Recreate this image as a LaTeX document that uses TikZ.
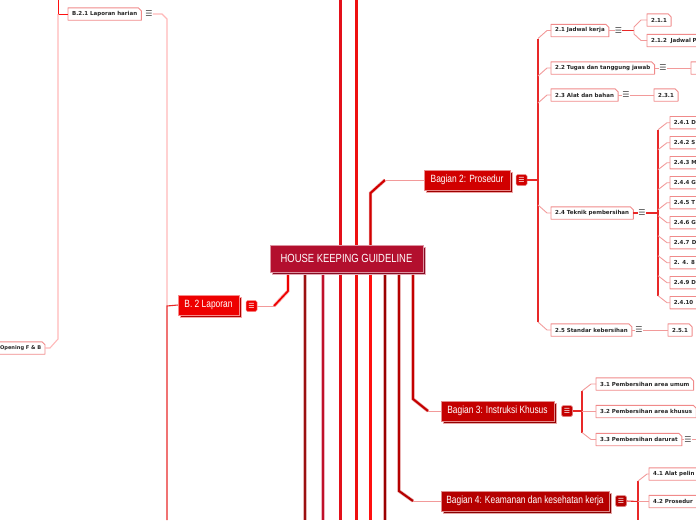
\documentclass[tikz,border=0pt]{standalone}
\usepackage{fontspec}
\setmainfont{DejaVu Sans}
\newfontfamily\hkmain[FakeStretch=0.8]{Liberation Sans}
\newfontfamily\hklab{DejaVu Sans}
\newfontfamily\hksym{DejaVu Sans}
\usetikzlibrary{shadows}
\definecolor{cmain}{HTML}{B30F2E}
\definecolor{cbtwo}{HTML}{EE0000}
\definecolor{cbagtwo}{HTML}{D10000}
\definecolor{cbagthree}{HTML}{C40000}
\definecolor{cbagfour}{HTML}{B50000}
\definecolor{tone}{HTML}{9B1010}
\definecolor{ttwo}{HTML}{C0102A}
\definecolor{tthree}{HTML}{E3101A}
\definecolor{tfour}{HTML}{EE1010}
\definecolor{tfive}{HTML}{FF1010}
\definecolor{tsix}{HTML}{9B0000}
\definecolor{boxline}{HTML}{F08A8A}
\definecolor{palelink}{HTML}{F29A9A}
\definecolor{palepink}{HTML}{FFB8B8}
\definecolor{spinered}{HTML}{E82828}
\definecolor{labtext}{HTML}{262626}
\definecolor{icongray}{HTML}{444444}
\tikzset{
  mainbox/.style={fill=#1, draw=#1!45!white, line width=0.5pt, text=white, inner sep=0pt,
    font=\hkmain\fontsize{10.5}{12}\selectfont,
    general shadow={shadow xshift=2pt, shadow yshift=-2.2pt, fill=#1!75!black, draw=#1!35!white, line width=0.5pt}},
  micon/.style={fill=#1, draw=#1!45!white, line width=0.5pt, rounded corners=1.5pt, minimum size=11pt,
    inner sep=0pt, text=white, font=\hksym\fontsize{7}{7}\selectfont},
  lab/.style={fill=white, anchor=west, inner xsep=4pt, inner ysep=0pt, minimum height=12pt,
    text=labtext, font=\hklab\bfseries\fontsize{5.5}{6.5}\selectfont},
  labclip/.style={lab, text width=70pt, align=left},
  sicon/.style={inner sep=0pt, text=icongray, font=\hksym\fontsize{8}{8}\selectfont},
  trunk/.style={draw=#1, line width=2.1pt, preaction={draw=#1!30!white, line width=3.4pt}},
  spine/.style={draw=spinered, line width=1.1pt},
  pale/.style={draw=palelink, line width=0.9pt},
  outline/.style={draw=boxline, line width=0.9pt, line join=round},
}
\begin{document}
\begin{tikzpicture}[x=1pt,y=-1pt]
\useasboundingbox (0,0) rectangle (696,520);
\clip (0,0) rectangle (696,520);
% main nodes
\node[mainbox=cmain, minimum width=153pt, minimum height=27pt, font=\hkmain\fontsize{11.8}{13}\selectfont] (c) at (346.5,258.5) {HOUSE KEEPING GUIDELINE};
\node[mainbox=cbtwo, minimum width=61pt, minimum height=20pt] (b2) at (208.5,305) {B. 2 Laporan};
\node[micon=cbtwo] (b2i) at (251.5,306) {☰};
\node[mainbox=cbagtwo, minimum width=86pt, minimum height=20pt] (g2) at (467,180) {Bagian 2: Prosedur};
\node[micon=cbagtwo] (g2i) at (521.5,180) {☰};
\node[mainbox=cbagthree, minimum width=113pt, minimum height=20pt] (g3) at (497.5,411) {Bagian 3: Instruksi Khusus};
\node[micon=cbagthree] (g3i) at (567,411) {☰};
\node[mainbox=cbagfour, minimum width=168pt, minimum height=20pt] (g4) at (525,501) {Bagian 4: Keamanan dan kesehatan kerja};
\node[micon=cbagfour] (g4i) at (621,501) {☰};
% small nodes
\node[lab] (b21) at (68,14) {B.2.1 Laporan harian};
\node[sicon] (b21i) at (149,14) {☰};
\node[lab, anchor=east, inner xsep=3.5pt, font=\hklab\bfseries\fontsize{5.1}{6}\selectfont] (opn) at (45,348) {Opening F \& B};
\node[lab] (s21) at (551,30.5) {2.1 Jadwal kerja};
\node[sicon] (s21i) at (618.5,30.5) {☰};
\node[lab] (s211) at (647,20) {2.1.1};
\node[labclip] (s212) at (647,40.5) {2.1.2\ \ Jadwal P};
\node[lab] (s22) at (551,68) {2.2 Tugas dan tanggung jawab};
\node[sicon] (s22i) at (663,68) {☰};
\node[labclip] (s221) at (691,68) {};
\node[lab] (s23) at (551,95) {2.3 Alat dan bahan};
\node[sicon] (s23i) at (626,95) {☰};
\node[lab] (s231) at (654,95) {2.3.1};
\node[lab] (s24) at (551,213) {2.4 Teknik pembersihan};
\node[sicon] (s24i) at (642,213) {☰};
\foreach \t [count=\i from 0] in {2.4.1 D,2.4.2 S,2.4.3 M,2.4.4 G,2.4.5 T,2.4.6 G,2.4.7\kern0.6pt\ D,2. 4. 8,2.4.9 D,2.4.10}
  \node[labclip, inner xsep=3.6pt] (s24-\i) at (670,122.7+20*\i) {\t};
\node[lab] (s25) at (551,330) {2.5 Standar kebersihan};
\node[sicon] (s25i) at (639,330) {☰};
\node[lab] (s251) at (668,330) {2.5.1};
\node[lab] (s31) at (596,384) {3.1 Pembersihan area umum};
\node[lab] (s32) at (596,411.5) {3.2 Pembersihan area khusus};
\node[lab] (s33) at (596,439.5) {3.3 Pembersihan darurat};
\node[sicon] (s33i) at (688,439.5) {☰};
\node[labclip] (s41) at (649,474) {4.1 Alat pelin};
\node[labclip] (s42) at (649,501.5) {4.2 Prosedur};
% outlines with cut corner
\foreach \n in {b21,opn,s21,s211,s212,s22,s221,s23,s231,s24,s25,s251,s31,s32,s33,s41,s42,s24-0,s24-1,s24-2,s24-3,s24-4,s24-5,s24-6,s24-7,s24-8,s24-9}
  \draw[outline] (\n.south west) -- (\n.north west) -- ([xshift=-3pt]\n.north east) -- ([yshift=-3pt]\n.north east) -- (\n.south east) -- cycle;
% coordinates
\coordinate (cb) at ([yshift=-2.6pt]c.south);
\foreach \x/\nm in {288/x288,305/x305,323/x323,340.5/x340,356.5/x356,370.5/x370,385/x385,399/x399,413/x413}
  \coordinate (\nm) at (\x,0);
\coordinate (topa) at (340.5,0);
\coordinate (topb) at (356.5,0);
\coordinate (bot305) at (305,520);
\coordinate (bot323) at (323,520);
\coordinate (bot340) at (340.5,520);
\coordinate (bot356) at (356.5,520);
\coordinate (bot370) at (370.5,520);
\coordinate (bot385) at (385,520);
% trunks up
\draw[trunk=tthree] (c.north -| x340) -- (topa);
\draw[trunk=tfour] (c.north -| x356) -- (topb);
\draw[trunk=cbagtwo] (c.north -| x370) -- (370.5,193) -- (385,180);
\draw[pale] (385,180) -- (g2.west);
% trunks down
\draw[trunk=tone] (cb -| x305) -- (bot305);
\draw[trunk=ttwo] (cb -| x323) -- (bot323);
\draw[trunk=tthree] (cb -| x340) -- (bot340);
\draw[trunk=tfour] (cb -| x356) -- (bot356);
\draw[trunk=tfive] (cb -| x370) -- (bot370);
\draw[trunk=tsix] (cb -| x385) -- (bot385);
\draw[trunk=cbagfour] (cb -| x399) -- (399,491) -- (413,501);
\draw[pale] (413,501) -- (g4.west);
\draw[trunk=cbagthree] (cb -| x413) -- (413,399) -- (428,411);
\draw[pale] (428,411) -- (g3.west);
\draw[trunk=cbtwo, line width=1.7pt] (cb -| x288) -- (288,291) -- (274,306);
\draw[pale] (274,306) -- (b2i.east);
% B.2 children (left)
\coordinate (lbot) at (167,520);
\draw[draw=palepink, line width=1.1pt] (b21i.east) -- (162,14) -- (167,19) -- (167,306);
\draw[spine] (b2.west) -- (167,306) -- (lbot);
\coordinate (ltop) at (58,0);
\draw[draw=tfive, line width=1pt] (b21.west) -- (58,14) -- (ltop);
\draw[draw=palepink, line width=1.1pt] (58,14) -- (58,339) -- (50,348) -- (opn.east);
% Bagian 2 children
\draw[spine] (g2i.east) -- (538,180);
\draw[spine] (538,38.5) -- (538,322);
\draw[pale] (538,38.5) -- (547,30.5) -- (s21.west);
\draw[pale] (538,76) -- (547,68) -- (s22.west);
\draw[pale] (538,103) -- (547,95) -- (s23.west);
\draw[pale] (538,205) -- (547,213) -- (s24.west);
\draw[pale] (538,322) -- (547,330) -- (s25.west);
% 2.1
\draw[pale] (s21.east) -- (s21i.west);
\draw[spine] (s21i.east) -- (634,30.5);
\draw[pale] (634,30.5) -- (634,27) -- (641,20) -- (s211.west);
\draw[pale] (634,30.5) -- (634,34) -- (641,40.5) -- (s212.west);
% 2.2, 2.3
\draw[pale] (s22.east) -- (s22i.west);
\draw[pale] (s22i.east) -- (s221.west);
\draw[pale] (s23.east) -- (s23i.west);
\draw[pale] (s23i.east) -- (s231.west);
% 2.4
\draw[spine] (s24.east) -- (s24i.west);
\draw[spine, line width=1.5pt] (s24i.east) -- (658,213);
\draw[spine] (658,129.7) -- (658,295.7);
\foreach \i in {0,...,9} {
  \pgfmathsetmacro\cy{122.7+20*\i}
  \pgfmathsetmacro\sy{\cy<213 ? \cy+7 : \cy-7}
  \draw[pale] (658,\sy) -- (667,\cy) -- (s24-\i.west);
}
% 2.5
\draw[pale] (s25.east) -- (s25i.west);
\draw[pale] (s25i.east) -- (s251.west);
% Bagian 3 children
\draw[spine] (g3i.east) -- (582,411);
\draw[spine] (582,391) -- (582,432.5);
\draw[pale] (582,391) -- (591,384) -- (s31.west);
\draw[pale] (582,411.5) -- (s32.west);
\draw[pale] (582,432.5) -- (591,439.5) -- (s33.west);
\draw[pale] (s33.east) -- (s33i.west);
\coordinate (e33) at (696,439.5);
\draw[pale] (s33i.east) -- (e33);
% Bagian 4 children
\coordinate (g4bot) at (638,520);
\draw[spine] (g4i.east) -- (638,501.5);
\draw[spine] (638,481) -- (g4bot);
\draw[pale] (638,481) -- (647,474) -- (s41.west);
\draw[pale] (638,501.5) -- (s42.west);
\end{tikzpicture}
\end{document}
